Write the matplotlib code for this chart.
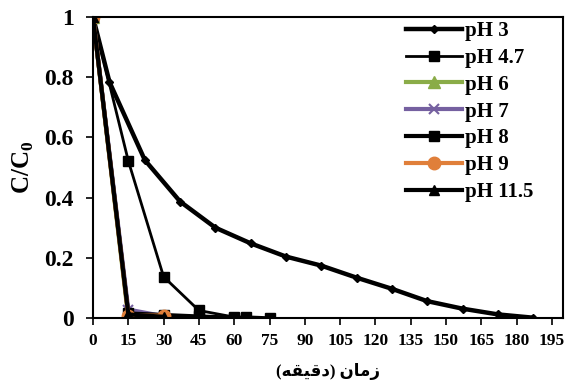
import numpy as np
import matplotlib
matplotlib.use("Agg")
import matplotlib.pyplot as plt

# time (min) and C/C0 for each pH
t_ph3 = [0, 7, 22, 37, 52, 67, 82, 97, 112, 127, 142, 157, 172, 187]
c_ph3 = [1.0, 0.784, 0.525, 0.387, 0.300, 0.248, 0.204, 0.174, 0.134, 0.097, 0.056, 0.031, 0.012, 0.001]

t_ph47 = [0, 15, 30, 45, 60, 65, 75]
c_ph47 = [1.0, 0.522, 0.137, 0.025, 0.003, 0.004, 0.001]

t_ph6 = [0, 15, 30]
c_ph6 = [1.0, 0.0, 0.0]

t_ph7 = [0, 15, 30]
c_ph7 = [1.0, 0.028, 0.006]

t_ph8 = [0, 15, 30, 45, 60]
c_ph8 = [1.0, 0.015, 0.010, 0.005, 0.001]

t_ph9 = [0, 15, 30]
c_ph9 = [1.0, 0.008, 0.008]

t_ph115 = [0, 15, 30]
c_ph115 = [1.0, 0.012, 0.004]

xticks = list(range(0, 196, 15))
yticks = [0, 0.2, 0.4, 0.6, 0.8, 1]

# Persian x label in visual order with presentation forms: "زمان (دقیقه)"
xlabel = "(\uFEEA\uFED8\uFEF4\uFED7\uFEA9) \uFEE5\uFE8E\uFEE3\uFEAF"

plt.rcParams['font.family'] = ['Liberation Serif', 'DejaVu Sans']
plt.rcParams['font.weight'] = 'bold'

fig = plt.figure(figsize=(5.65, 3.87), dpi=100)
ax = fig.add_axes([93/565, 1-318/387, 470/565, 301/387])

ax.plot(t_ph3, c_ph3, color='black', lw=3.2, marker='D', ms=4.5, label='pH 3')
ax.plot(t_ph47, c_ph47, color='black', lw=2.0, marker='s', ms=6.5, label='pH 4.7')
ax.plot(t_ph6, c_ph6, color='#8aac48', lw=3, marker='^', ms=8, label='pH 6')
ax.plot(t_ph7, c_ph7, color='#7560a0', lw=3, marker='x', ms=7, mew=1.5, label='pH 7')
ax.plot(t_ph8, c_ph8, color='black', lw=3, marker='s', ms=6.5, label='pH 8')
ax.plot(t_ph9, c_ph9, color='#e07f3a', lw=3, marker='o', ms=9, label='pH 9')
ax.plot(t_ph115, c_ph115, color='black', lw=3, marker='^', ms=6.5, label='pH 11.5')

ax.set_xlim(0, 199.7)
ax.set_ylim(0, 1)
ax.set_xticks(xticks)
ax.set_yticks(yticks)
ax.set_yticklabels(['0', '0.2', '0.4', '0.6', '0.8', '1'])
ax.tick_params(axis='x', labelsize=12.5, direction='out', length=5, width=1.2, pad=6)
ax.tick_params(axis='y', labelsize=17, direction='out', length=5, width=1.2, pad=9)
for lab in ax.get_xticklabels() + ax.get_yticklabels():
    lab.set_fontweight('bold')
for sp in ax.spines.values():
    sp.set_linewidth(1.5)

ax.set_ylabel('C/C$_\\mathregular{0}$', fontsize=18, fontweight='bold', labelpad=6)
ax.set_xlabel(xlabel, fontsize=12, fontweight='bold', labelpad=10)

leg = ax.legend(loc='upper left', bbox_to_anchor=(406/565, 1-21/387),
                bbox_transform=fig.transFigure, frameon=False,
                prop={'size': 15, 'weight': 'bold'},
                handlelength=2.7, handletextpad=0.15, labelspacing=0.33,
                borderaxespad=0, borderpad=0)

fig.savefig('out.png', dpi=100)
